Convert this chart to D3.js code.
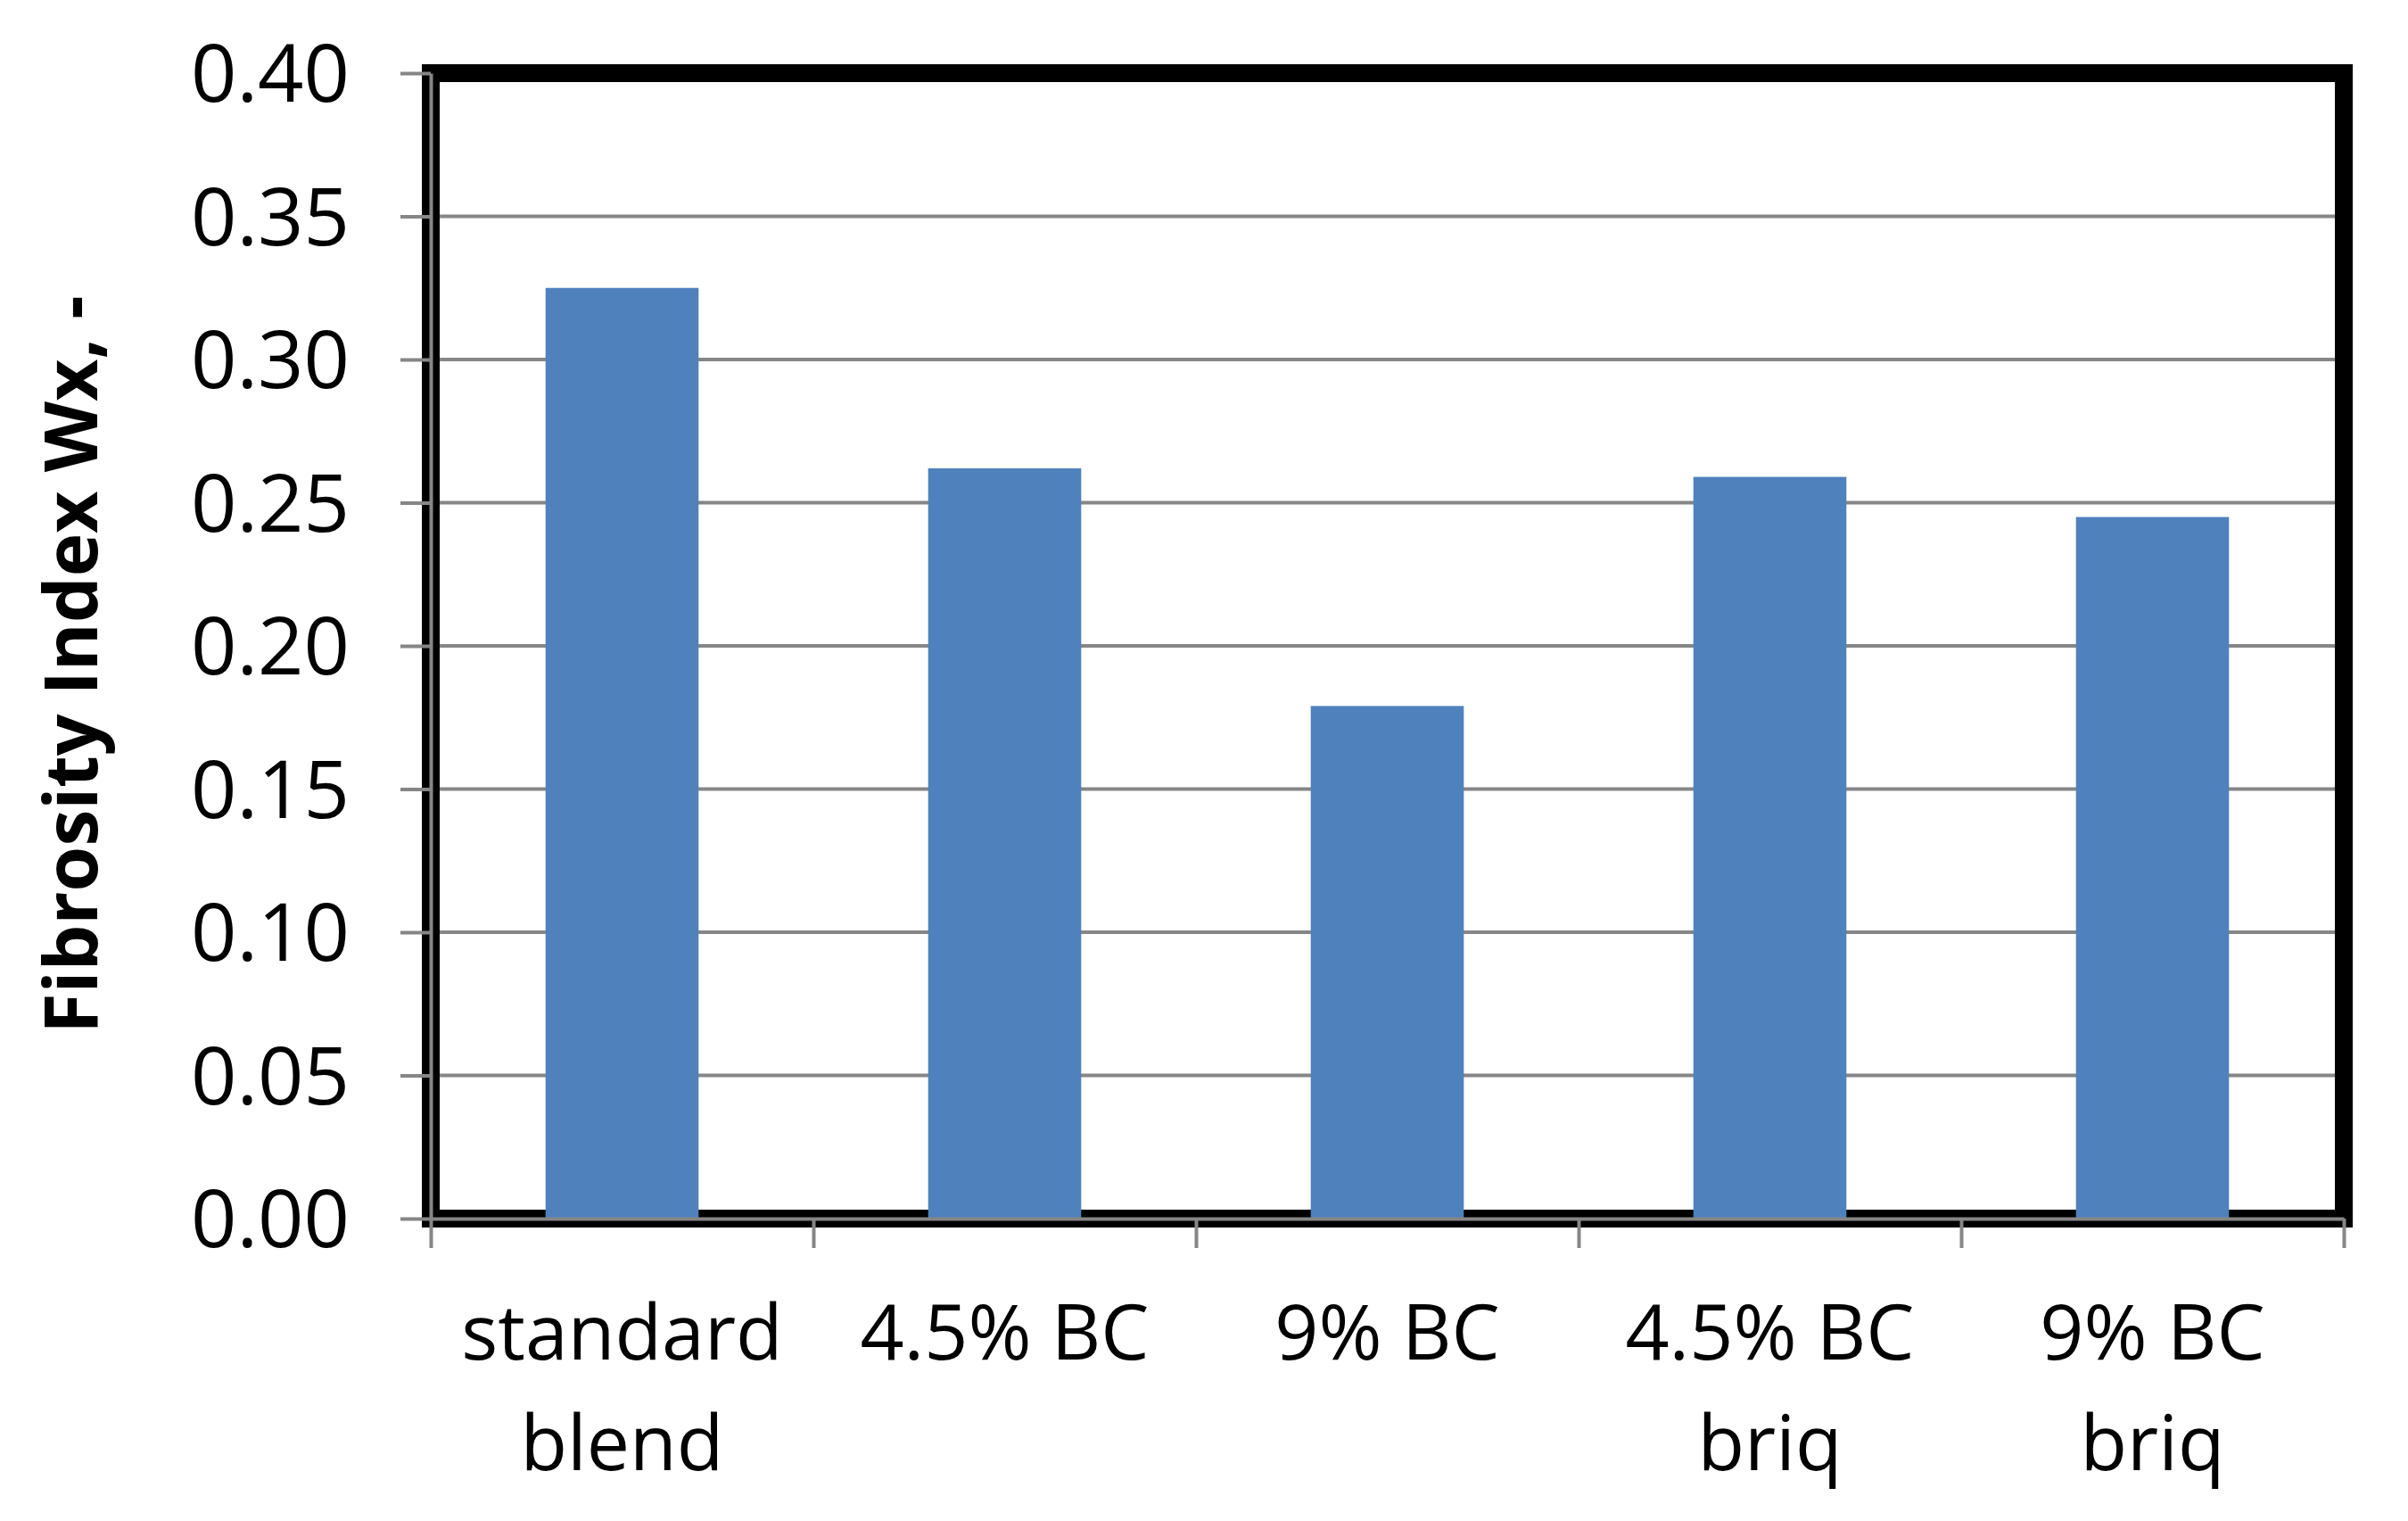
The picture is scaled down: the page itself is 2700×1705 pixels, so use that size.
<!DOCTYPE html>
<html>
<head>
<meta charset="utf-8">
<script src="https://cdn.jsdelivr.net/npm/d3@7"></script>
<style>
  html, body { margin: 0; padding: 0; background: #ffffff; }
  svg { display: block; }
</style>
</head>
<body>
<script>
const categories = [["standard", "blend"], ["4.5% BC"], ["9% BC"], ["4.5% BC", "briq"], ["9% BC", "briq"]];
const values = [0.325, 0.262, 0.179, 0.259, 0.245];
const yTicks = [0.00, 0.05, 0.10, 0.15, 0.20, 0.25, 0.30, 0.35, 0.40];
const yTitle = "Fibrosity Index Wx, -";

(function () {
const W = 2700, H = 1705;
const pL = 483, pR = 2628, pT = 82, pB = 1366;
const gray = "#868686";

const svg = d3.select("body").append("svg").attr("width", W).attr("height", H);
svg.append("rect").attr("width", W).attr("height", H).attr("fill", "#fff");

const x = d3.scaleBand().domain(d3.range(categories.length)).range([pL, pR])
  .paddingInner(0.6).paddingOuter(0.3);
const y = d3.scaleLinear().domain([0, 0.4]).range([pB, pT]);

// gridlines
svg.append("g").selectAll("line").data(yTicks.filter(d => d > 0)).join("line")
  .attr("x1", pL).attr("x2", pR)
  .attr("y1", d => y(d)).attr("y2", d => y(d))
  .attr("stroke", gray).attr("stroke-width", 4);

// frame
svg.append("rect").attr("x", pL).attr("y", pT)
  .attr("width", pR - pL).attr("height", pB - pT)
  .attr("fill", "none").attr("stroke", "#000").attr("stroke-width", 20);

// bars
svg.append("g").selectAll("rect").data(values).join("rect")
  .attr("x", (d, i) => x(i)).attr("width", x.bandwidth())
  .attr("y", d => y(d)).attr("height", d => y(0) - y(d))
  .attr("fill", "#4F81BD");

// y axis
const yAxis = d3.axisLeft(y).tickValues(yTicks).tickFormat(d3.format(".2f"))
  .tickSize(34).tickPadding(57).tickSizeOuter(0);
const gy = svg.append("g").attr("transform", `translate(${pL},0)`).call(yAxis);
gy.select(".domain").attr("stroke", gray).attr("stroke-width", 4);
gy.selectAll(".tick line").attr("stroke", gray).attr("stroke-width", 4);
gy.selectAll(".tick text").attr("fill", "#000")
  .style("font-family", "'Open Sans', sans-serif").style("font-size", "90px")
  .attr("dy", "0.35em");

// x axis: ticks at band boundaries
const xb = d3.scaleLinear().domain([0, categories.length]).range([pL, pR]);
const gx = svg.append("g").attr("transform", `translate(0,${pB})`)
  .call(d3.axisBottom(xb).tickValues(d3.range(categories.length + 1))
    .tickSize(33).tickFormat("").tickSizeOuter(0));
gx.select(".domain").attr("stroke", gray).attr("stroke-width", 4);
gx.selectAll(".tick line").attr("stroke", gray).attr("stroke-width", 4);

// category labels
const lab = svg.append("g").selectAll("text").data(categories).join("text")
  .attr("text-anchor", "middle")
  .style("font-family", "'Open Sans', sans-serif").style("font-size", "86px")
  .attr("fill", "#000");
lab.each(function (lines, i) {
  const t = d3.select(this);
  lines.forEach((ln, j) => {
    t.append("tspan").attr("x", x(i) + x.bandwidth() / 2).attr("y", 1524 + j * 124).text(ln);
  });
});

// y title
svg.append("text")
  .attr("transform", `translate(109,745) rotate(-90)`)
  .attr("text-anchor", "middle")
  .style("font-family", "'Open Sans', sans-serif").style("font-size", "82px")
  .style("font-weight", "bold").attr("fill", "#000")
  .text(yTitle);
})();
</script>
</body>
</html>
